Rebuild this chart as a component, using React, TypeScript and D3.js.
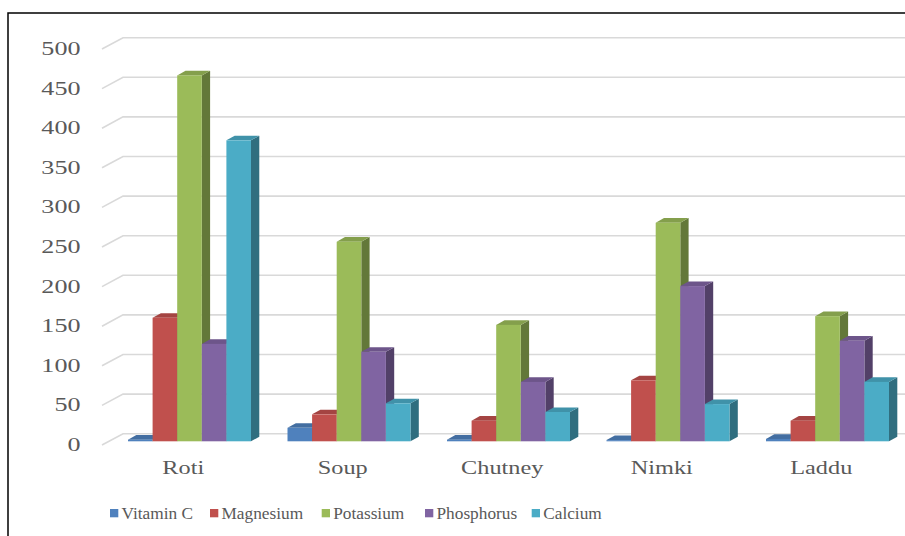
import React from "react";
import * as d3 from "d3";

const categories = ["Roti", "Soup", "Chutney", "Nimki", "Laddu"];
const seriesNames = ["Vitamin C", "Magnesium", "Potassium", "Phosphorus", "Calcium"];
const vitaminC = [2, 17, 2, 1.5, 3];
const magnesium = [156, 34, 26, 77, 26];
const potassium = [462, 252, 147, 276, 158];
const phosphorus = [123, 113, 75, 196, 127];
const calcium = [380, 48, 37, 47, 75];
const yTicks = [0, 50, 100, 150, 200, 250, 300, 350, 400, 450, 500];

const seriesValues = [vitaminC, magnesium, potassium, phosphorus, calcium];
const colors = ["#4f81bd", "#c0504d", "#9bbb59", "#8064a2", "#4bacc6"];

const W = 905;
const H = 536;
const FRONT_X0 = 102;
const FRONT_X1 = 899.5;
const FRONT_Y0 = 445;
const BACK_DX = 21;
const BACK_DY = -11.3;
const BAR_DX = 7.75;
const BAR_DY = -3.7;
const DEPTH_DX = 8.3;
const DEPTH_DY = -4.6;
const GROUP_W = 123;

const FONT = "'Liberation Serif', 'Times New Roman', serif";
const TEXT_COLOR = "#595959";

export default function App() {
  const y = d3.scaleLinear().domain([0, 500]).range([FRONT_Y0, FRONT_Y0 - 396]);
  const x = d3.scaleBand<string>().domain(categories).range([FRONT_X0, FRONT_X1]).paddingInner(0).paddingOuter(0);
  const xs = d3.scaleBand<string>().domain(seriesNames).range([0, GROUP_W]).padding(0);

  const bars: React.ReactNode[] = [];
  categories.forEach((cat, ci) => {
    const gx = (x(cat) as number) + (x.bandwidth() - GROUP_W) / 2 + BAR_DX;
    seriesNames.forEach((s, si) => {
      const v = seriesValues[si][ci];
      const x0 = gx + (xs(s) as number);
      const w = xs.bandwidth();
      const yb = y(0) + BAR_DY;
      const yt = y(v) + BAR_DY;
      const base = d3.color(colors[si])!;
      const top = base.darker(0.45).formatHex();
      const side = base.darker(1.25).formatHex();
      const x1 = x0 + w;
      bars.push(
        <g key={cat + s}>
          <path
            d={`M${x1},${yb}L${x1 + DEPTH_DX},${yb + DEPTH_DY}L${x1 + DEPTH_DX},${yt + DEPTH_DY}L${x1},${yt}Z`}
            fill={side}
          />
          <path
            d={`M${x0},${yt}L${x0 + DEPTH_DX},${yt + DEPTH_DY}L${x1 + DEPTH_DX},${yt + DEPTH_DY}L${x1},${yt}Z`}
            fill={top}
          />
          <rect x={x0} y={yt} width={w} height={Math.max(0.8, yb - yt)} fill={colors[si]} />
        </g>
      );
    });
  });

  const legendMarkerX = [110, 210, 321.7, 425, 531.7];

  return (
    <div style={{ position: "fixed", left: 0, top: 0, width: W, height: H, background: "#fff" }}>
      <svg width={W} height={H} style={{ display: "block" }}>
        <rect x={0} y={0} width={W} height={H} fill="#fff" />
        <rect x={8} y={13} width={1200} height={1200} fill="none" stroke="#000" strokeWidth={1.5} />
        {yTicks.map((t) => (
          <path
            key={"g" + t}
            d={`M${FRONT_X0},${y(t)}L${FRONT_X0 + BACK_DX},${y(t) + BACK_DY}L${W + 20},${y(t) + BACK_DY}`}
            fill="none"
            stroke="#d9d9d9"
            strokeWidth={1.6}
          />
        ))}
        {yTicks.map((t) => (
          <text
            key={"y" + t}
            transform={`translate(80.5,${y(t) + 6}) scale(1.45,1)`}
            textAnchor="end"
            fontFamily={FONT}
            fontSize={18}
            fill={TEXT_COLOR}
          >
            {t}
          </text>
        ))}
        {bars}
        {categories.map((c) => (
          <text
            key={"x" + c}
            transform={`translate(${(x(c) as number) + x.bandwidth() / 2 + 1.5},474.3) scale(1.35,1)`}
            textAnchor="middle"
            fontFamily={FONT}
            fontSize={18}
            fill={TEXT_COLOR}
          >
            {c}
          </text>
        ))}
        {seriesNames.map((s, i) => (
          <g key={"l" + s}>
            <rect x={legendMarkerX[i]} y={509} width={8.3} height={8.3} fill={colors[i]} />
            <text x={legendMarkerX[i] + 11.5} y={519} fontFamily={FONT} fontSize={17.3} fill={TEXT_COLOR}>
              {s}
            </text>
          </g>
        ))}
      </svg>
    </div>
  );
}
